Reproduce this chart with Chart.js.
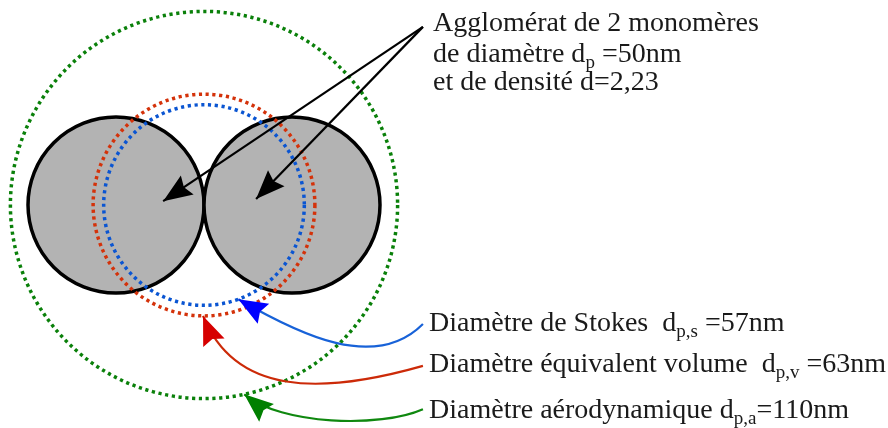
<!DOCTYPE html>
<html>
<head>
<meta charset="utf-8">
<script src="https://cdn.jsdelivr.net/npm/chart.js@4.4.1/dist/chart.umd.min.js"></script>
<style>
    html, body { margin: 0; padding: 0; background: #fff; }
    #wrap { position: relative; width: 888px; height: 428px; overflow: hidden; }
    #agglo { display: block; }
    .lbl {
        position: absolute;
        font-family: "Liberation Serif", "DejaVu Serif", serif;
        font-size: 28px;
        line-height: 28px;
        color: #1a1a1a;
        white-space: pre;
    }
    .lbl sub { font-size: 19px; line-height: 0; vertical-align: -6px; }
</style>
</head>
<body>
<div id="wrap">
    <canvas id="agglo" width="888" height="428"></canvas>
</div>
<script>
// agglomerate: 2 monomers (nm)
const monomerCount = 2;
const monomerCenters = [-25, 25];
const monomerDiameter = 50;
const density = 2.23;

// equivalent diameters (nm)
const equivLabels = ['Diamètre de Stokes', 'Diamètre équivalent volume', 'Diamètre aérodynamique'];
const equivSubs = ['p,s', 'p,v', 'p,a'];
const equivDiameters = [57, 63, 110];

// styling kept apart from the data
const equivColors = ['#0a55d2', '#d4320a', '#0a800a'];
const arrowLineColors = ['#1862d8', '#cc2a08', '#0f880f'];
const arrowHeadColors = ['#0000ff', '#d60000', '#008000'];
const tipAngles = [-70, -90.5, -78];          // where each arrow hits its circle (deg)
const labelTops = [308, 349, 395];
const spaceBefore = ['  ', '  ', ' '];
const spaceAfter = [' ', ' ', ''];

const pxPerNm = 3.52;
const originPx = { x: 204, y: 205 };

function rPx(chart, r) {
    const xs = chart.scales.x;
    return xs.getPixelForValue(r) - xs.getPixelForValue(0);
}

const datasets = equivDiameters.map((d, i) => ({
    label: equivLabels[i],
    data: [{ x: 0, y: 0 }],
    dotted: true,
    order: 1,
    pointStyle: 'circle',
    pointRadius: ctx => rPx(ctx.chart, d / 2),
    pointBackgroundColor: 'rgba(0,0,0,0)',
    pointBorderColor: equivColors[i],
    pointBorderWidth: 3.5,
}));

datasets.push({
    label: 'monomères',
    data: monomerCenters.map(x => ({ x: x, y: 0 })),
    order: 2,
    pointStyle: 'circle',
    pointRadius: ctx => rPx(ctx.chart, monomerDiameter / 2),
    pointBackgroundColor: '#b3b3b3',
    pointBorderColor: '#000',
    pointBorderWidth: 3.5,
});

// dotted outline for the equivalent circles
const dashPlugin = {
    id: 'dash',
    beforeDatasetDraw(chart, args) {
        if (chart.data.datasets[args.index].dotted) {
            chart.ctx.save();
            chart.ctx.setLineDash([3.2, 3.6]);
        }
    },
    afterDatasetDraw(chart, args) {
        if (chart.data.datasets[args.index].dotted) chart.ctx.restore();
    }
};

function arrowHead(ctx, tip, from, color) {
    const dx = tip.x - from.x, dy = tip.y - from.y;
    const len = Math.hypot(dx, dy);
    const ux = dx / len, uy = dy / len;
    const L = 29, W = 11.5, notch = 4;
    const bx = tip.x - L * ux, by = tip.y - L * uy;
    ctx.beginPath();
    ctx.moveTo(tip.x, tip.y);
    ctx.lineTo(bx - W * uy, by + W * ux);
    ctx.lineTo(tip.x - (L - notch) * ux, tip.y - (L - notch) * uy);
    ctx.lineTo(bx + W * uy, by - W * ux);
    ctx.closePath();
    ctx.fillStyle = color;
    ctx.fill();
}

// annotation arrows (nm coordinates, converted through the scales)
const arrowPlugin = {
    id: 'arrows',
    afterDatasetsDraw(chart) {
        const ctx = chart.ctx;
        const X = v => chart.scales.x.getPixelForValue(v);
        const Y = v => chart.scales.y.getPixelForValue(v);
        const P = (x, y) => ({ x: X(x), y: Y(y) });

        ctx.save();
        // black arrows to the monomers
        const origin = P(62.2, 50.6);
        [P(-11.6, 1.1), P(14.8, 1.7)].forEach(tip => {
            ctx.beginPath();
            ctx.moveTo(origin.x, origin.y);
            ctx.lineTo(tip.x, tip.y);
            ctx.strokeStyle = '#000';
            ctx.lineWidth = 2.2;
            ctx.stroke();
            arrowHead(ctx, tip, origin, '#000');
        });

        // curved arrows to the equivalent circles
        const ctrl = [
            [[62.2, -33.8], [48.6, -47.4], [27.3, -36.9]],
            [[62.2, -45.7], [33.0, -54.0], [8.8, -54.0]],
            [[62.2, -58.0], [50.0, -63.4], [21.9, -62.5]],
        ];
        equivDiameters.forEach((d, i) => {
            const a = tipAngles[i] * Math.PI / 180;
            const tip = P(d / 2 * Math.cos(a), d / 2 * Math.sin(a));
            const p0 = P(...ctrl[i][0]), p1 = P(...ctrl[i][1]), p2 = P(...ctrl[i][2]);
            ctx.beginPath();
            ctx.moveTo(p0.x, p0.y);
            ctx.bezierCurveTo(p1.x, p1.y, p2.x, p2.y, tip.x, tip.y);
            ctx.strokeStyle = arrowLineColors[i];
            ctx.lineWidth = 2.2;
            ctx.stroke();
            arrowHead(ctx, tip, p2, arrowHeadColors[i]);
        });
        ctx.restore();
    }
};

new Chart(document.getElementById('agglo'), {
    type: 'scatter',
    data: { datasets: datasets },
    options: {
        responsive: false,
        animation: false,
        events: [],
        layout: { padding: 0 },
        scales: {
            x: { display: false, min: -originPx.x / pxPerNm, max: (888 - originPx.x) / pxPerNm },
            y: { display: false, min: -(428 - originPx.y) / pxPerNm, max: originPx.y / pxPerNm },
        },
        plugins: {
            legend: { display: false },
            tooltip: { enabled: false },
        },
        datasets: { scatter: { clip: false } },
    },
    plugins: [dashPlugin, arrowPlugin],
});

// text labels
const wrap = document.getElementById('wrap');
function addLabel(html, left, top) {
    const el = document.createElement('div');
    el.className = 'lbl';
    el.style.left = left + 'px';
    el.style.top = top + 'px';
    el.innerHTML = html;
    wrap.appendChild(el);
}
const fr = v => String(v).replace('.', ',');
addLabel(`Agglomérat de ${monomerCount} monomères`, 433, 8);
addLabel(`de diamètre d<sub>p</sub> =${monomerDiameter}nm`, 433, 39);
addLabel(`et de densité d=${fr(density)}`, 433, 67);
equivLabels.forEach((lab, i) => {
    addLabel(`${lab}${spaceBefore[i]}d<sub>${equivSubs[i]}</sub>${spaceAfter[i]}=${equivDiameters[i]}nm`, 429, labelTops[i]);
});
</script>
</body>
</html>
